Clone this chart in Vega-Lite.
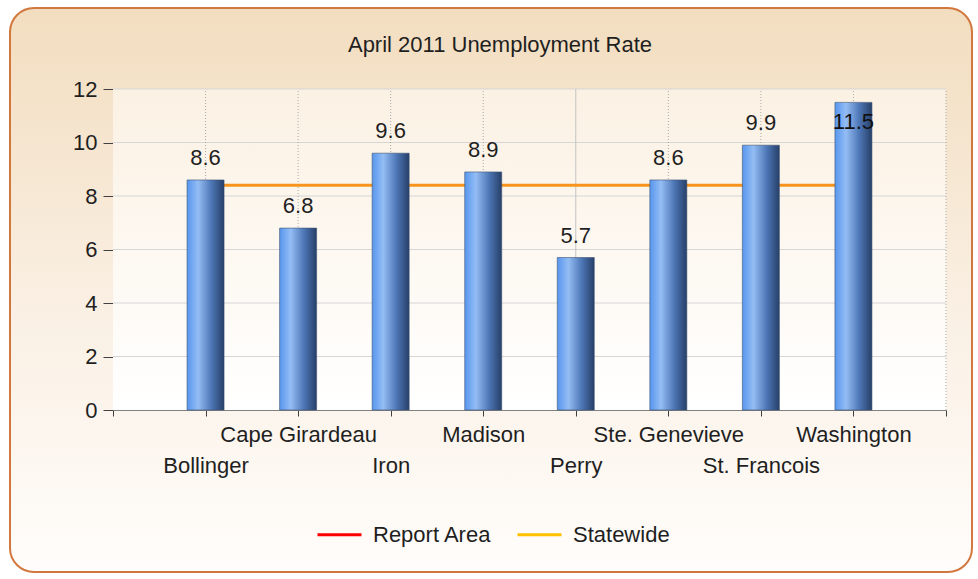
{
  "$schema": "https://vega.github.io/schema/vega-lite/v6.json",
  "width": 962,
  "height": 564,
  "autosize": {"type": "none"},
  "padding": {"left": 10, "top": 8, "right": 6, "bottom": 7},
  "background": "#ffffff",
  "config": {
    "view": {
      "fill": {"gradient": "linear", "x1": 0, "y1": 0, "x2": 0, "y2": 1, "stops": [{"offset": 0, "color": "#F2DDBF"}, {"offset": 0.55, "color": "#FAF0E4"}, {"offset": 1, "color": "#FFFDFB"}]},
      "stroke": "#D2773E",
      "strokeWidth": 2,
      "cornerRadius": 24
    },
    "font": "Liberation Sans"
  },
  "title": {"text": "April 2011 Unemployment Rate", "offset": -66, "baseline": "alphabetic", "fontSize": 22, "fontWeight": "normal", "color": "#1f1f1f", "font": "Liberation Sans", "dx": 9},
  "datasets": {
    "counties": [
      {"county": "Bollinger", "pos": 1, "rate": 8.6, "statewide": 8.4},
      {"county": "Cape Girardeau", "pos": 2, "rate": 6.8, "statewide": 8.4},
      {"county": "Iron", "pos": 3, "rate": 9.6, "statewide": 8.4},
      {"county": "Madison", "pos": 4, "rate": 8.9, "statewide": 8.4},
      {"county": "Perry", "pos": 5, "rate": 5.7, "statewide": 8.4},
      {"county": "Ste. Genevieve", "pos": 6, "rate": 8.6, "statewide": 8.4},
      {"county": "St. Francois", "pos": 7, "rate": 9.9, "statewide": 8.4},
      {"county": "Washington", "pos": 8, "rate": 11.5, "statewide": 8.4}
    ],
    "hgrid": [{"v": 2}, {"v": 4}, {"v": 6}, {"v": 8}, {"v": 10}, {"v": 12}],
    "vgrid": [{"p": 1}, {"p": 2}, {"p": 3}, {"p": 4}, {"p": 5}, {"p": 6}, {"p": 7}, {"p": 8}, {"p": 9}]
  },
  "layer": [
    {
      "data": {"name": "counties"},
      "mark": {"type": "line", "strokeWidth": 3},
      "encoding": {
        "x": {
          "field": "pos",
          "type": "quantitative",
          "scale": {"domain": [0, 9], "range": [103, 936], "nice": false, "zero": false, "padding": 0},
          "axis": {
            "values": [0, 1, 2, 3, 4, 5, 6, 7, 8, 9],
            "offset": -162,
            "grid": false,
            "title": null,
            "domainColor": "#808080",
            "tickColor": "#404040",
            "tickSize": 6,
            "labelExpr": "datum.value >= 1 && datum.value <= 8 ? (datum.value % 2 == 1 ? ['', data('counties')[datum.value - 1].county] : data('counties')[datum.value - 1].county) : ''",
            "labelFontSize": 22,
            "labelFont": "Liberation Sans",
            "labelColor": "#1f1f1f",
            "labelLineHeight": 31,
            "labelPadding": 8,
            "labelBaseline": "top",
            "labelOverlap": false,
            "labelFlush": false,
            "labelBound": false
          }
        },
        "y": {
          "field": "statewide",
          "type": "quantitative",
          "scale": {"domain": [0, 12], "range": [402, 81], "nice": false},
          "axis": {
            "values": [0, 2, 4, 6, 8, 10, 12],
            "offset": -103,
            "grid": false,
            "title": null,
            "domainColor": "#808080",
            "tickColor": "#404040",
            "tickSize": 10,
            "labelPadding": 6,
            "labelFontSize": 22,
            "labelFont": "Liberation Sans",
            "labelColor": "#1f1f1f"
          }
        },
        "color": {
          "datum": "Statewide",
          "type": "nominal",
          "scale": {"domain": ["Report Area", "Statewide"], "range": ["#FF0000", "#FFC000"]},
          "legend": {
            "title": null,
            "orient": "none",
            "legendX": 306,
            "legendY": 503,
            "direction": "horizontal",
            "symbolType": "stroke",
            "symbolSize": 1936,
            "symbolStrokeWidth": 3,
            "labelFontSize": 22,
            "labelFont": "Liberation Sans",
            "labelColor": "#1f1f1f",
            "labelOffset": 10,
            "columnPadding": 19,
            "padding": 0
          }
        }
      }
    },
    {
      "data": {"values": [{}]},
      "mark": {"type": "rect", "fill": {"gradient": "linear", "x1": 0, "y1": 0, "x2": 0, "y2": 1, "stops": [{"offset": 0, "color": "#FBF1E3"}, {"offset": 1, "color": "#FFFFFF"}]}},
      "encoding": {
        "x": {"datum": 0, "type": "quantitative", "scale": {"domain": [0, 9], "range": [103, 936], "nice": false, "zero": false, "padding": 0}},
        "x2": {"datum": 9},
        "y": {"datum": 0, "type": "quantitative", "scale": {"domain": [0, 12], "range": [402, 81], "nice": false}},
        "y2": {"datum": 12}
      }
    },
    {
      "data": {"name": "hgrid"},
      "mark": {"type": "rule", "color": "#D6D6D6", "strokeWidth": 1},
      "encoding": {
        "y": {"field": "v", "type": "quantitative", "scale": {"domain": [0, 12], "range": [402, 81], "nice": false}},
        "x": {"datum": 0, "type": "quantitative", "scale": {"domain": [0, 9], "range": [103, 936], "nice": false, "zero": false, "padding": 0}},
        "x2": {"datum": 9}
      }
    },
    {
      "data": {"name": "vgrid"},
      "transform": [{"filter": "datum.p != 5"}],
      "mark": {"type": "rule", "color": "#A8A8A8", "strokeWidth": 1, "strokeDash": [1, 2]},
      "encoding": {
        "x": {"field": "p", "type": "quantitative", "scale": {"domain": [0, 9], "range": [103, 936], "nice": false, "zero": false, "padding": 0}},
        "y": {"datum": 0, "type": "quantitative", "scale": {"domain": [0, 12], "range": [402, 81], "nice": false}},
        "y2": {"datum": 12}
      }
    },
    {
      "data": {"name": "vgrid"},
      "transform": [{"filter": "datum.p == 5"}],
      "mark": {"type": "rule", "color": "#C4C4C4", "strokeWidth": 1},
      "encoding": {
        "x": {"field": "p", "type": "quantitative", "scale": {"domain": [0, 9], "range": [103, 936], "nice": false, "zero": false, "padding": 0}},
        "y": {"datum": 0, "type": "quantitative", "scale": {"domain": [0, 12], "range": [402, 81], "nice": false}},
        "y2": {"datum": 12}
      }
    },
    {
      "data": {"name": "counties"},
      "mark": {"type": "line", "strokeWidth": 3, "color": "#F7941D"},
      "encoding": {
        "x": {"field": "pos", "type": "quantitative", "scale": {"domain": [0, 9], "range": [103, 936], "nice": false, "zero": false, "padding": 0}},
        "y": {"field": "statewide", "type": "quantitative", "scale": {"domain": [0, 12], "range": [402, 81], "nice": false}}
      }
    },
    {
      "data": {"name": "counties"},
      "mark": {
        "type": "bar",
        "width": 37,
        "fill": {"gradient": "linear", "x1": 0, "y1": 0, "x2": 1, "y2": 0, "stops": [{"offset": 0, "color": "#5796EE"}, {"offset": 0.3, "color": "#94BDF4"}, {"offset": 0.65, "color": "#4F78B8"}, {"offset": 1, "color": "#263F68"}]},
        "stroke": "#3D5272",
        "strokeWidth": 0.6
      },
      "encoding": {
        "x": {"field": "pos", "type": "quantitative", "scale": {"domain": [0, 9], "range": [103, 936], "nice": false, "zero": false, "padding": 0}},
        "y": {"field": "rate", "type": "quantitative", "scale": {"domain": [0, 12], "range": [402, 81], "nice": false}}
      }
    },
    {
      "data": {"name": "counties"},
      "transform": [{"filter": "datum.rate < 11"}],
      "mark": {"type": "text", "dy": -15, "baseline": "alphabetic", "fontSize": 22, "color": "#1f1f1f", "font": "Liberation Sans"},
      "encoding": {
        "x": {"field": "pos", "type": "quantitative", "scale": {"domain": [0, 9], "range": [103, 936], "nice": false, "zero": false, "padding": 0}},
        "y": {"field": "rate", "type": "quantitative", "scale": {"domain": [0, 12], "range": [402, 81], "nice": false}},
        "text": {"field": "rate", "type": "quantitative", "format": ".1f"}
      }
    },
    {
      "data": {"name": "counties"},
      "transform": [{"filter": "datum.rate >= 11"}],
      "mark": {"type": "text", "dy": 27, "baseline": "alphabetic", "fontSize": 22, "color": "#111111", "font": "Liberation Sans"},
      "encoding": {
        "x": {"field": "pos", "type": "quantitative", "scale": {"domain": [0, 9], "range": [103, 936], "nice": false, "zero": false, "padding": 0}},
        "y": {"field": "rate", "type": "quantitative", "scale": {"domain": [0, 12], "range": [402, 81], "nice": false}},
        "text": {"field": "rate", "type": "quantitative", "format": ".1f"}
      }
    }
  ]
}
